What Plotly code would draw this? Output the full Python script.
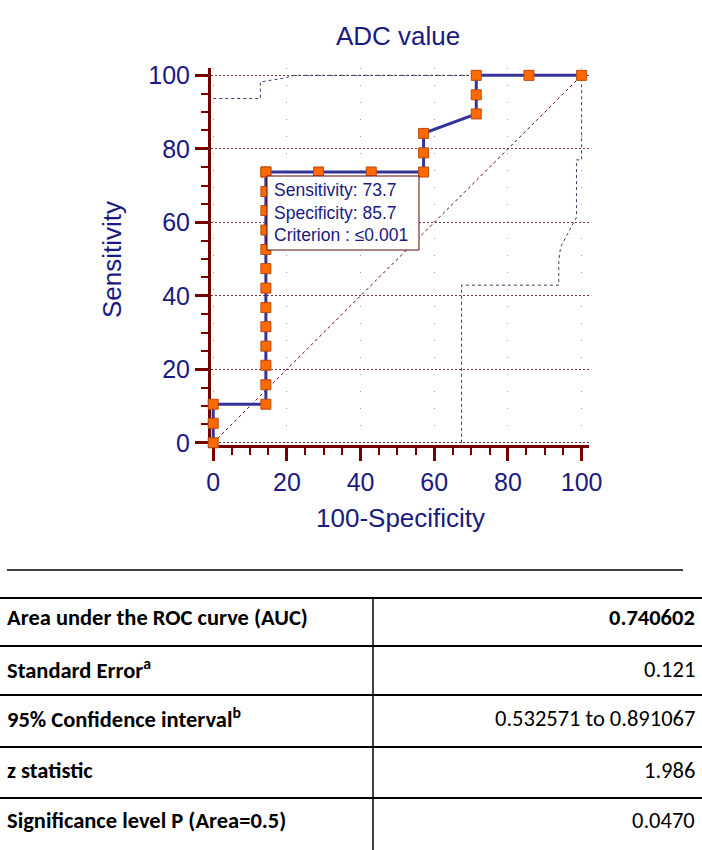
import plotly.graph_objects as go

W, H = 702, 850

NAVY = '#1a1a80'
LINE = '#333399'
MAROON = '#750000'
ORANGE = '#ff6a00'
ORANGE_EDGE = '#b84a10'
BAND = '#3c3c6e'

# ROC curve (100-Specificity, Sensitivity)
roc_x = [0, 0, 0, 14.3, 14.3, 14.3, 14.3, 14.3, 14.3, 14.3, 14.3, 14.3, 14.3, 14.3, 14.3, 14.3, 14.3,
         28.6, 42.9, 57.1, 57.1, 57.1, 71.4, 71.4, 71.4, 85.7, 100]
roc_y = [0, 5.3, 10.5, 10.5, 15.8, 21.1, 26.3, 31.6, 36.8, 42.1, 47.4, 52.6, 57.9, 63.2, 68.4, 73.7, 73.7,
         73.7, 73.7, 73.7, 78.9, 84.2, 89.5, 94.7, 100, 100, 100]

# 95% confidence bounds (dotted)
upper_x = [0, 12.8, 12.8, 19.5, 22, 100]
upper_y = [93.7, 93.7, 98.2, 99.3, 100, 100]
lower_x = [67.4, 67.4, 93.8, 93.8, 94.3, 98.6, 98.6, 100, 100]
lower_y = [0, 42.9, 42.9, 49.7, 53.3, 61.4, 77, 77, 100]

ref_x = [0, 100]
ref_y = [0, 100]

# Criterion box
box_lines = ['Sensitivity: 73.7', 'Specificity: 85.7', 'Criterion : \u22640.001']

# Results table
row_labels = ['Area under the ROC curve (AUC)', 'Standard Error<sup>a</sup>',
              '95% Confidence interval<sup>b</sup>', 'z statistic',
              'Significance level P (Area=0.5)']
row_values = ['<b>0.740602</b>', '0.121', '0.532571 to 0.891067', '1.986', '0.0470']


def px(x):
    return x / W


def py(y):
    return 1 - y / H


fig = go.Figure()

fig.add_trace(go.Scatter(x=upper_x, y=upper_y, mode='lines',
                         line=dict(color=BAND, width=1, dash='dot'), hoverinfo='skip'))
fig.add_trace(go.Scatter(x=lower_x, y=lower_y, mode='lines',
                         line=dict(color=BAND, width=1, dash='dot'), hoverinfo='skip'))
fig.add_trace(go.Scatter(x=ref_x, y=ref_y, mode='lines',
                         line=dict(color=MAROON, width=1, dash='dot'), hoverinfo='skip'))
fig.add_trace(go.Scatter(
    x=roc_x, y=roc_y, mode='lines+markers',
    line=dict(color=LINE, width=3),
    marker=dict(symbol='square', size=10, color=ORANGE, line=dict(color=ORANGE_EDGE, width=1)),
    cliponaxis=False,
))

axis_common = dict(
    showline=True, linecolor=MAROON, linewidth=3, layer='below traces',
    ticks='outside', ticklen=13, tickwidth=3, tickcolor=MAROON,
    tickfont=dict(family='Liberation Sans, Arial', size=25, color=NAVY),
    zeroline=False, automargin=False,
    minor=dict(ticks='outside', ticklen=7, tickwidth=2, tickcolor=MAROON, dtick=5, showgrid=False),
    showgrid=True, gridwidth=1,
    tickvals=[0, 20, 40, 60, 80, 100], range=[-0.6, 102],
)

fig.update_xaxes(**axis_common, gridcolor='#a0a0b0', griddash='1px,16px',
                 domain=[211 / W, 589 / W])
fig.update_yaxes(**axis_common, gridcolor='#6a3a3a', griddash='2px,2px',
                 domain=[py(445), py(68)])

ann = []


def text(t, x, y, size, color, family='Liberation Sans, Arial', xanchor='center', angle=0):
    ann.append(dict(text=t, x=px(x), y=py(y), xref='paper', yref='paper', xanchor=xanchor,
                    yanchor='middle', textangle=angle, showarrow=False,
                    font=dict(family=family, size=size, color=color)))


text('ADC value', 398, 36, 26, NAVY)
text('Sensitivity', 112, 260, 26, NAVY, angle=-90)
text('100-Specificity', 400, 518, 26, NAVY)

shapes = []
# criterion box
shapes.append(dict(type='rect', xref='paper', yref='paper', x0=px(267), x1=px(419), y0=py(250), y1=py(176),
                   line=dict(color='#5a0a0a', width=1), fillcolor='white', layer='above'))
for i, t in enumerate(box_lines):
    text(t, 272, 190 + 22.5 * i, 17.5, NAVY, xanchor='left')

# table
TF = 'Carlito, Lato, Liberation Sans Narrow, Arial'
shapes.append(dict(type='line', xref='paper', yref='paper', x0=px(7), x1=px(683), y0=py(570), y1=py(570),
                   line=dict(color='black', width=1.5)))
for yl in [598, 646, 695, 747, 798]:
    shapes.append(dict(type='line', xref='paper', yref='paper', x0=0, x1=1, y0=py(yl), y1=py(yl),
                       line=dict(color='black', width=2)))
shapes.append(dict(type='line', xref='paper', yref='paper', x0=px(373), x1=px(373), y0=py(598), y1=0,
                   line=dict(color='black', width=1.5)))

row_y = [617, 669, 718, 770, 820]
for lab, val, yy in zip(row_labels, row_values, row_y):
    text('<b>' + lab + '</b>', 5, yy, 22.5, 'black', family=TF, xanchor='left')
    text(val, 697, yy, 22.5, 'black', family=TF, xanchor='right')

fig.update_layout(
    width=W, height=H,
    margin=dict(l=0, r=0, t=0, b=0),
    paper_bgcolor='white', plot_bgcolor='white',
    showlegend=False,
    annotations=ann, shapes=shapes,
)

fig.write_html('out.html', config={'displayModeBar': False},
               post_script="document.body.style.margin='0';")
